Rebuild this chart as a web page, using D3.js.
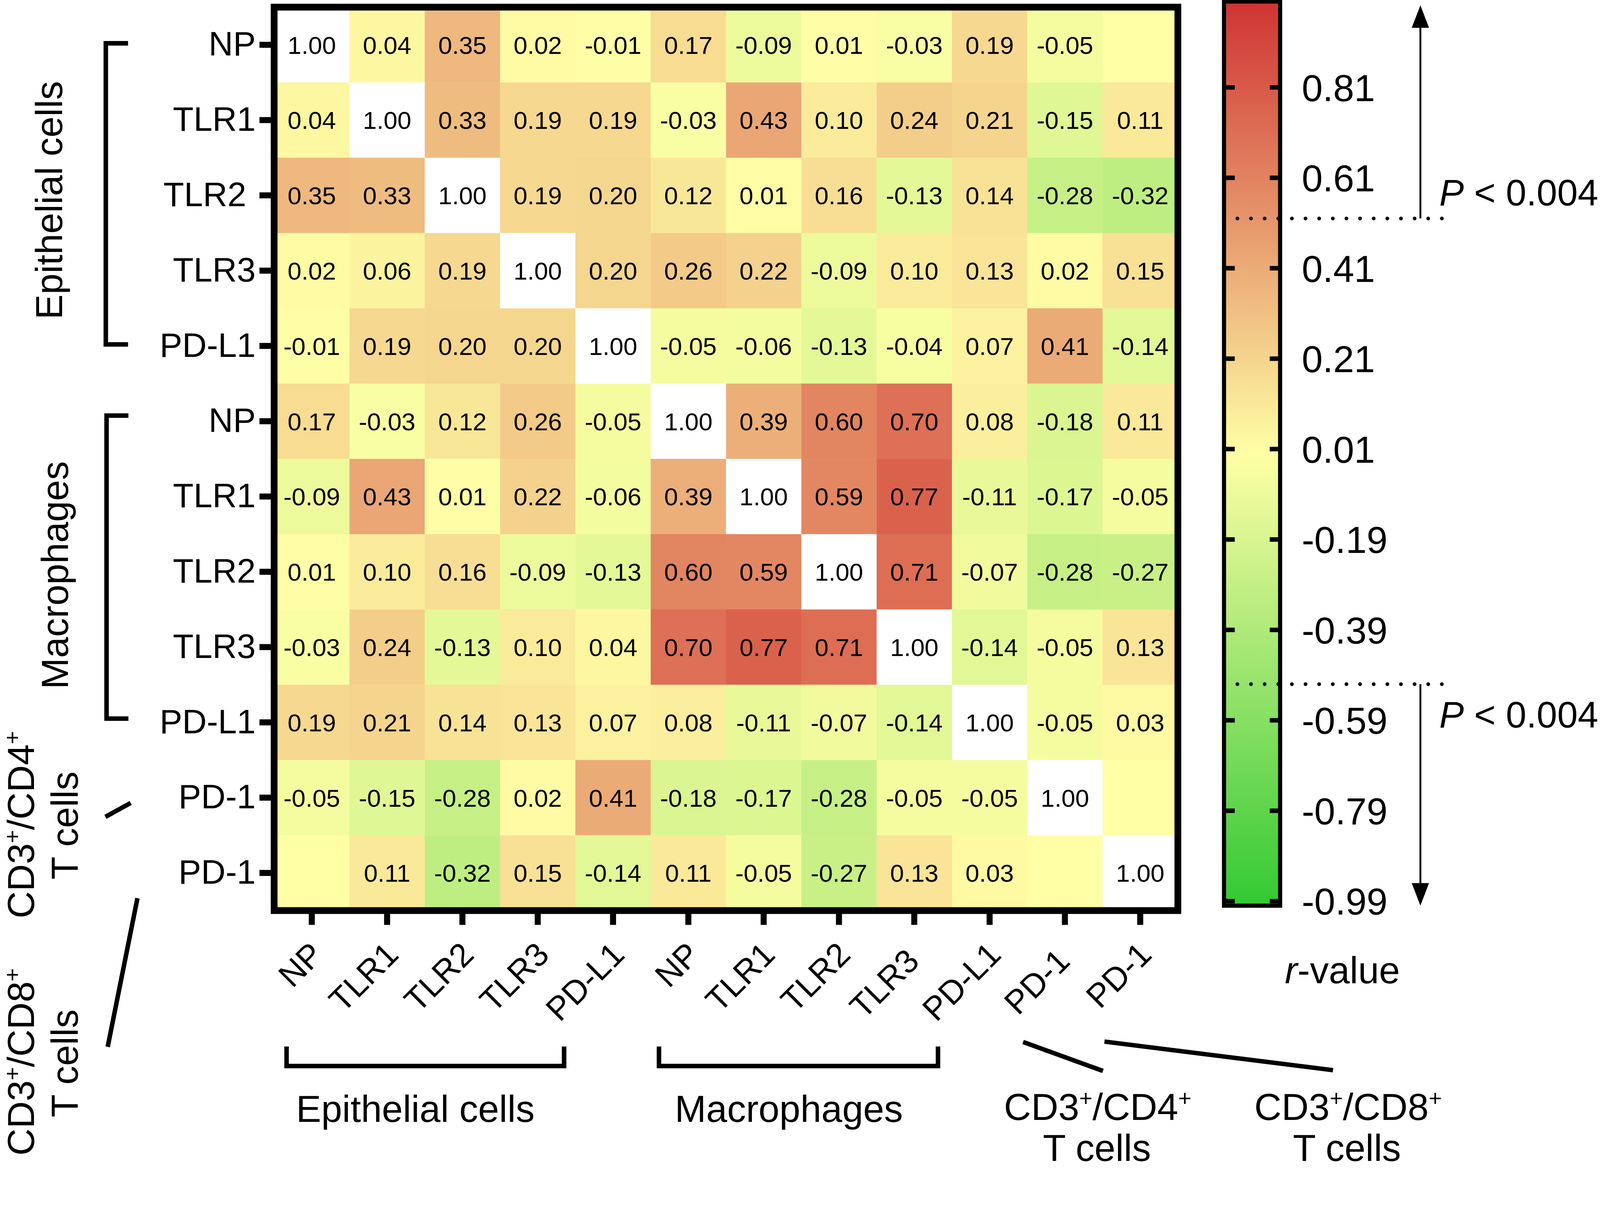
<!DOCTYPE html>
<html>
<head>
<meta charset="utf-8">
<script src="https://cdn.jsdelivr.net/npm/d3@7"></script>
<style>
  html, body { margin: 0; padding: 0; background: #fff; overflow: hidden; }
  svg { display: block; width: 100vw; height: 100vh; font-family: "Liberation Sans", Arial, sans-serif; }
</style>
</head>
<body>
<svg id="chart"></svg>
<script>
var width = 4249,
    height = 3091;

// labels (trailing spaces are in the original labels)
var rowLabels = ["NP", "TLR1", "TLR2 ", "TLR3", "PD-L1", "NP", "TLR1", "TLR2", "TLR3", "PD-L1", "PD-1", "PD-1"];
var colLabels = ["NP", "TLR1", "TLR2", "TLR3", "PD-L1", "NP", "TLR1", "TLR2", "TLR3 ", "PD-L1", "PD-1 ", "PD-1"];

// r-values, one array per row (null = no value shown)
var epiNP    = [1.00, 0.04, 0.35, 0.02, -0.01, 0.17, -0.09, 0.01, -0.03, 0.19, -0.05, null];
var epiTLR1  = [0.04, 1.00, 0.33, 0.19, 0.19, -0.03, 0.43, 0.10, 0.24, 0.21, -0.15, 0.11];
var epiTLR2  = [0.35, 0.33, 1.00, 0.19, 0.20, 0.12, 0.01, 0.16, -0.13, 0.14, -0.28, -0.32];
var epiTLR3  = [0.02, 0.06, 0.19, 1.00, 0.20, 0.26, 0.22, -0.09, 0.10, 0.13, 0.02, 0.15];
var epiPDL1  = [-0.01, 0.19, 0.20, 0.20, 1.00, -0.05, -0.06, -0.13, -0.04, 0.07, 0.41, -0.14];
var macNP    = [0.17, -0.03, 0.12, 0.26, -0.05, 1.00, 0.39, 0.60, 0.70, 0.08, -0.18, 0.11];
var macTLR1  = [-0.09, 0.43, 0.01, 0.22, -0.06, 0.39, 1.00, 0.59, 0.77, -0.11, -0.17, -0.05];
var macTLR2  = [0.01, 0.10, 0.16, -0.09, -0.13, 0.60, 0.59, 1.00, 0.71, -0.07, -0.28, -0.27];
var macTLR3  = [-0.03, 0.24, -0.13, 0.10, 0.04, 0.70, 0.77, 0.71, 1.00, -0.14, -0.05, 0.13];
var macPDL1  = [0.19, 0.21, 0.14, 0.13, 0.07, 0.08, -0.11, -0.07, -0.14, 1.00, -0.05, 0.03];
var cd4PD1   = [-0.05, -0.15, -0.28, 0.02, 0.41, -0.18, -0.17, -0.28, -0.05, -0.05, 1.00, null];
var cd8PD1   = [null, 0.11, -0.32, 0.15, -0.14, 0.11, -0.05, -0.27, 0.13, 0.03, null, 1.00];

var rValues = [epiNP, epiTLR1, epiTLR2, epiTLR3, epiPDL1, macNP, macTLR1, macTLR2, macTLR3, macPDL1, cd4PD1, cd8PD1];

// colour bar
var cbTicks = [-0.99, -0.79, -0.59, -0.39, -0.19, 0.01, 0.21, 0.41, 0.61, 0.81];
var pCuts = [0.52, -0.51];

var svg = d3.select("#chart")
    .attr("viewBox", "0 0 " + width + " " + height)
    .attr("preserveAspectRatio", "xMinYMin meet");

svg.append("rect")
    .attr("width", width)
    .attr("height", height)
    .attr("fill", "#fff");

var x = d3.scaleBand().domain(d3.range(colLabels.length)).range([728, 3128]);
var y = d3.scaleBand().domain(d3.range(rowLabels.length)).range([19, 2419]);

var color = d3.scaleLinear()
    .domain([-1, 0, 1])
    .range(["#33c933", "#ffffa6", "#cf3333"]);

var cells = [];
rValues.forEach(function(row, i) {
  row.forEach(function(v, j) { cells.push({i: i, j: j, v: v}); });
});

// heatmap cells
svg.append("g")
  .selectAll("rect")
  .data(cells)
  .join("rect")
    .attr("x", function(d) { return x(d.j); })
    .attr("y", function(d) { return y(d.i); })
    .attr("width", x.bandwidth() + 0.5)
    .attr("height", y.bandwidth() + 0.5)
    .attr("fill", function(d) {
      if (d.v === 1) return "#fff";
      return color(d.v === null ? 0 : d.v);
    });

svg.append("g")
  .selectAll("text")
  .data(cells.filter(function(d) { return d.v !== null; }))
  .join("text")
    .attr("x", function(d) { return x(d.j) + x.bandwidth() / 2; })
    .attr("y", function(d) { return y(d.i) + y.bandwidth() / 2; })
    .attr("dy", "0.36em")
    .attr("text-anchor", "middle")
    .attr("font-size", 66)
    .text(function(d) { return d.v.toFixed(2); });

// frame
svg.append("rect")
    .attr("x", 728)
    .attr("y", 19)
    .attr("width", 2400)
    .attr("height", 2400)
    .attr("fill", "none")
    .attr("stroke", "#000")
    .attr("stroke-width", 18);

// row axis
var yAxis = svg.append("g")
    .attr("transform", "translate(719,0)")
    .call(d3.axisLeft(y).tickSize(30).tickPadding(10).tickFormat(function(i) { return rowLabels[i]; }));
yAxis.attr("font-family", null).attr("font-size", 90);
yAxis.select(".domain").remove();
yAxis.selectAll(".tick line").attr("stroke", "#000").attr("stroke-width", 16);
yAxis.selectAll(".tick text").attr("fill", "#000").style("white-space", "pre");

// column axis
var xAxis = svg.append("g")
    .attr("transform", "translate(0,2427)")
    .call(d3.axisBottom(x).tickSize(30).tickFormat(function(i) { return colLabels[i]; }));
xAxis.attr("font-family", null).attr("font-size", 88);
xAxis.select(".domain").remove();
xAxis.selectAll(".tick line").attr("stroke", "#000").attr("stroke-width", 16);
xAxis.selectAll(".tick text")
    .attr("fill", "#000")
    .attr("y", 0)
    .attr("dy", 0)
    .attr("text-anchor", "end")
    .attr("transform", "translate(35,114) rotate(-45)")
    .style("white-space", "pre");

// helper: "CD3+/CDn+" with superscripts
function cdLabel(sel, n) {
  sel.append("tspan").text("CD3");
  sel.append("tspan").attr("font-size", 60).attr("dy", -37).text("+");
  sel.append("tspan").attr("dy", 37).text("/CD" + n);
  sel.append("tspan").attr("font-size", 60).attr("dy", -37).text("+");
}

var ann = svg.append("g")
    .attr("font-size", 100)
    .attr("fill", "#000");

// left group brackets and labels
ann.append("path")
    .attr("d", "M340,115H281V915H340")
    .attr("fill", "none").attr("stroke", "#000").attr("stroke-width", 12);
ann.append("path")
    .attr("d", "M341,1104H283V1909H341")
    .attr("fill", "none").attr("stroke", "#000").attr("stroke-width", 12);

ann.append("text")
    .attr("transform", "translate(165,532) rotate(-90)")
    .attr("text-anchor", "middle")
    .text("Epithelial cells");
ann.append("text")
    .attr("transform", "translate(181,1528) rotate(-90)")
    .attr("text-anchor", "middle")
    .text("Macrophages");

ann.append("line")
    .attr("x1", 280).attr("y1", 2170).attr("x2", 347).attr("y2", 2133)
    .attr("stroke", "#000").attr("stroke-width", 12);
ann.append("line")
    .attr("x1", 365).attr("y1", 2386).attr("x2", 286).attr("y2", 2781)
    .attr("stroke", "#000").attr("stroke-width", 12);

ann.append("text")
    .attr("transform", "translate(90,2191) rotate(-90)")
    .attr("text-anchor", "middle")
    .call(cdLabel, 4);
ann.append("text")
    .attr("transform", "translate(206,2193) rotate(-90)")
    .attr("text-anchor", "middle")
    .text("T cells");
ann.append("text")
    .attr("transform", "translate(90,2821) rotate(-90)")
    .attr("text-anchor", "middle")
    .call(cdLabel, 8);
ann.append("text")
    .attr("transform", "translate(206,2825) rotate(-90)")
    .attr("text-anchor", "middle")
    .text("T cells");

// bottom group brackets and labels
ann.append("path")
    .attr("d", "M761,2780V2832H1498V2780")
    .attr("fill", "none").attr("stroke", "#000").attr("stroke-width", 12);
ann.append("path")
    .attr("d", "M1750,2780V2832H2491V2780")
    .attr("fill", "none").attr("stroke", "#000").attr("stroke-width", 12);

ann.append("text").attr("x", 1103).attr("y", 2980).attr("text-anchor", "middle").text("Epithelial cells");
ann.append("text").attr("x", 2095).attr("y", 2980).attr("text-anchor", "middle").text("Macrophages");

ann.append("line")
    .attr("x1", 2717).attr("y1", 2768).attr("x2", 2929).attr("y2", 2845)
    .attr("stroke", "#000").attr("stroke-width", 12);
ann.append("line")
    .attr("x1", 2933).attr("y1", 2767).attr("x2", 3540).attr("y2", 2843)
    .attr("stroke", "#000").attr("stroke-width", 12);

ann.append("text").attr("x", 2915).attr("y", 2975).attr("text-anchor", "middle").call(cdLabel, 4);
ann.append("text").attr("x", 2913).attr("y", 3084).attr("text-anchor", "middle").text("T cells");
ann.append("text").attr("x", 3580).attr("y", 2975).attr("text-anchor", "middle").call(cdLabel, 8);
ann.append("text").attr("x", 3577).attr("y", 3084).attr("text-anchor", "middle").text("T cells");

// colour bar
var cb = d3.scaleLinear().domain([-1, 1]).range([2406, 4]);

var grad = svg.append("defs").append("linearGradient")
    .attr("id", "cbGrad")
    .attr("x1", 0).attr("y1", 1).attr("x2", 0).attr("y2", 0);
[-1, 0, 1].forEach(function(v) {
  grad.append("stop")
      .attr("offset", ((v + 1) / 2 * 100) + "%")
      .attr("stop-color", color(v));
});

svg.append("rect")
    .attr("x", 3250.5)
    .attr("y", cb(1))
    .attr("width", 149)
    .attr("height", cb(-1) - cb(1))
    .attr("fill", "url(#cbGrad)")
    .attr("stroke", "#000")
    .attr("stroke-width", 11);

var cbTick = svg.append("g").selectAll("g")
    .data(cbTicks)
    .join("g");
cbTick.append("line")
    .attr("x1", 3256).attr("x2", 3279)
    .attr("y1", function(d) { return cb(d); }).attr("y2", function(d) { return cb(d); })
    .attr("stroke", "#000").attr("stroke-width", 12);
cbTick.append("line")
    .attr("x1", 3372).attr("x2", 3394)
    .attr("y1", function(d) { return cb(d); }).attr("y2", function(d) { return cb(d); })
    .attr("stroke", "#000").attr("stroke-width", 12);
cbTick.append("text")
    .attr("x", 3457)
    .attr("y", function(d) { return cb(d) + 36; })
    .attr("font-size", 100)
    .text(function(d) { return d.toFixed(2); });

// significance thresholds
svg.append("g").selectAll("line")
    .data(pCuts)
    .join("line")
    .attr("x1", 3286).attr("x2", 3830)
    .attr("y1", function(d) { return cb(d); }).attr("y2", function(d) { return cb(d); })
    .attr("stroke", "#000")
    .attr("stroke-width", 10)
    .attr("stroke-linecap", "round")
    .attr("stroke-dasharray", "0 36.2");

var ax = 3772;
svg.append("line")
    .attr("x1", ax).attr("x2", ax).attr("y1", cb(pCuts[0])).attr("y2", 70)
    .attr("stroke", "#000").attr("stroke-width", 5);
svg.append("path")
    .attr("d", "M" + ax + ",14L" + (ax - 23) + ",74L" + (ax + 23) + ",74Z")
    .attr("fill", "#000");
svg.append("line")
    .attr("x1", ax).attr("x2", ax).attr("y1", cb(pCuts[1])).attr("y2", 2350)
    .attr("stroke", "#000").attr("stroke-width", 5);
svg.append("path")
    .attr("d", "M" + ax + ",2406L" + (ax - 23) + ",2346L" + (ax + 23) + ",2346Z")
    .attr("fill", "#000");

[cb(pCuts[0]) - 35, cb(pCuts[1]) + 115].forEach(function(yy) {
  var t = svg.append("text")
      .attr("x", 3822)
      .attr("y", yy)
      .attr("font-size", 98);
  t.append("tspan").attr("font-style", "italic").text("P");
  t.append("tspan").text(" < 0.004");
});

var rv = svg.append("text")
    .attr("x", 3565)
    .attr("y", 2612)
    .attr("text-anchor", "middle")
    .attr("font-size", 100);
rv.append("tspan").attr("font-style", "italic").text("r");
rv.append("tspan").text("-value");
</script>
</body>
</html>
